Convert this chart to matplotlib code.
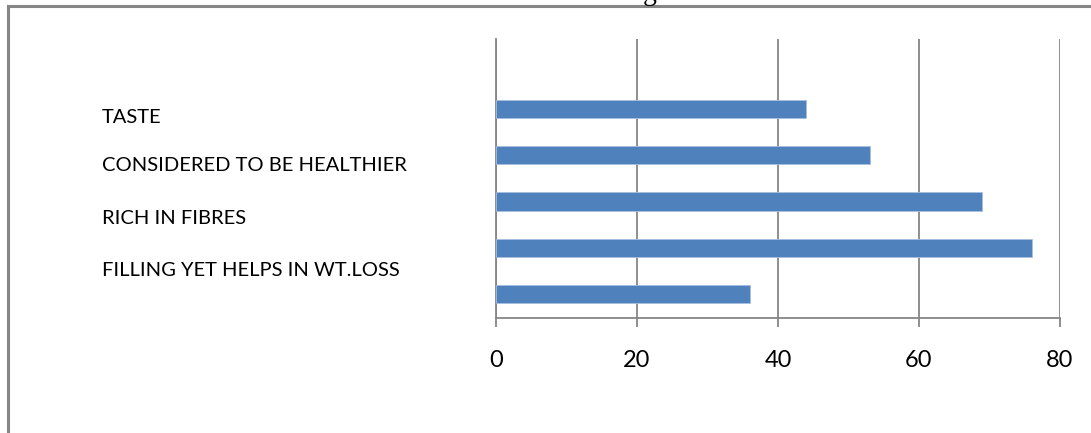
import matplotlib
matplotlib.use("Agg")
import matplotlib.pyplot as plt
from matplotlib.lines import Line2D

# Survey reasons and the share of respondents (%) for each bar, top to bottom
reasons = ["TASTE", "CONSIDERED TO BE HEALTHIER", "RICH IN FIBRES",
           "FILLING YET HELPS IN WT.LOSS"]
values = [44, 53, 69, 76, 36]
x_ticks = [0, 20, 40, 60, 80]

W, H = 1091, 433
fig = plt.figure(figsize=(W / 100, H / 100), dpi=100)
fig.patch.set_facecolor("white")

grey = "#868686"
bar_blue = "#4F81BD"

ax = fig.add_axes([496 / W, 1 - 317.5 / H, (1060 - 496) / W, (317.5 - 39) / H])

# one empty slot above the first bar
slots = list(range(1, len(values) + 1))
ax.barh(slots, values, height=0.39, color=bar_blue,
        edgecolor="#A7BFE0", linewidth=0.6, zorder=3)
ax.set_ylim(len(values) + 0.5, -0.5)
ax.set_xlim(0, 80)

ax.set_xticks(x_ticks)
ax.set_xticklabels([str(t) for t in x_ticks], fontfamily="Lato", fontsize=17)
ax.tick_params(axis="x", direction="out", length=6.5, width=1.3, color=grey, pad=17)
ax.set_yticks([])
ax.xaxis.grid(True, color=grey, linewidth=1.3, zorder=0)
for side in ("top", "right"):
    ax.spines[side].set_visible(False)
for side in ("left", "bottom"):
    ax.spines[side].set_color(grey)
    ax.spines[side].set_linewidth(1.3)

# category captions on the left
label_y = [117, 165, 218, 270]
for txt, yy in zip(reasons, label_y):
    fig.text(102 / W, 1 - yy / H, txt, ha="left", va="center",
             fontfamily="Lato", fontsize=14.5, color="black")

# outer frame of the chart
fig.add_artist(Line2D([7.5 / W, 1.0], [1 - 6 / H, 1 - 6 / H], color=grey, linewidth=2.2,
                      transform=fig.transFigure))
fig.add_artist(Line2D([7.5 / W, 7.5 / W], [1 - 6 / H, 0.0], color=grey, linewidth=2.2,
                      transform=fig.transFigure))

# title sits above the frame
fig.text(650 / W, 1.0, "g", ha="center", va="baseline",
         fontfamily="Liberation Serif", fontsize=20, color="black")

fig.savefig("out.png", dpi=100, facecolor="white")
